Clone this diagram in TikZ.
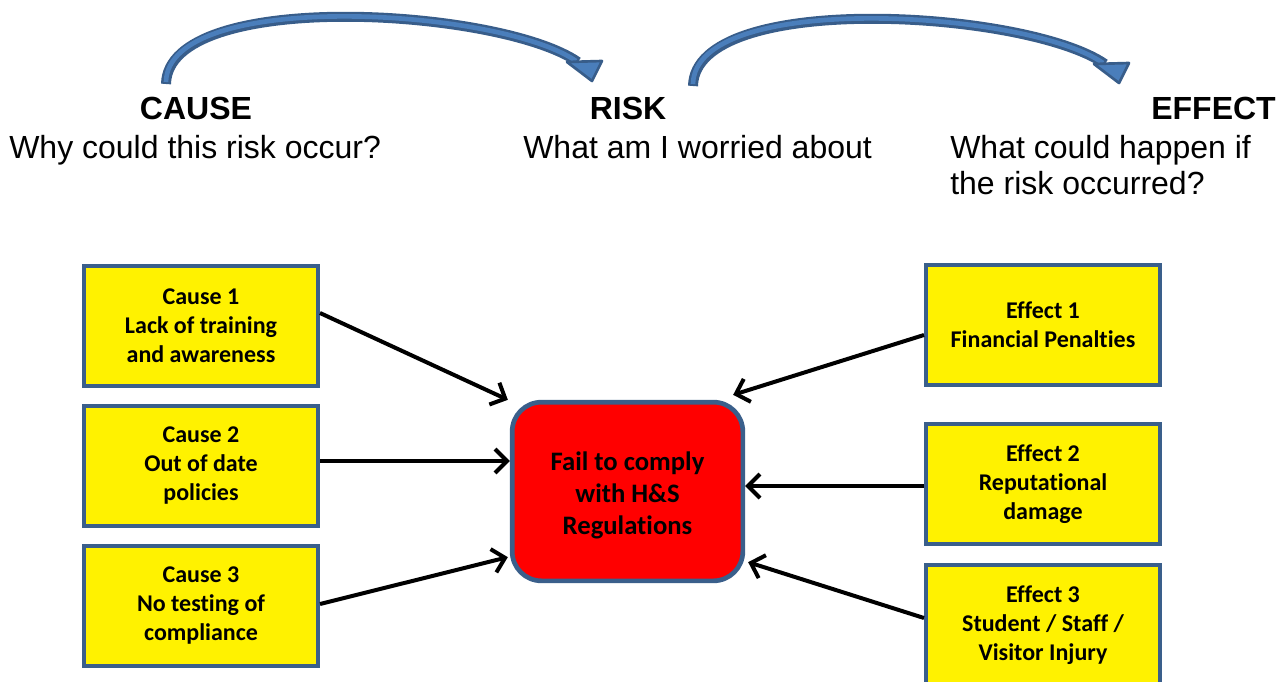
\documentclass[tikz,border=0pt]{standalone}
\usepackage{fontspec}
\setmainfont{Carlito}[Ligatures=NoCommon]
\newfontfamily\arialf{Liberation Sans}
\usetikzlibrary{arrows.meta,calc}
\definecolor{bord}{HTML}{3A5F8B}
\definecolor{arrdark}{HTML}{385D8A}
\definecolor{arrlight}{HTML}{4A7EBB}
\tikzset{
  ybox/.style={draw=bord, line width=3pt, fill=yellow, minimum width=175.5pt, minimum height=90pt,
    align=center, inner sep=0pt, font=\fontsize{18}{21.75}\selectfont\bfseries},
  rbox/.style={draw=bord, line width=3.5pt, fill=red, rounded corners=22pt, minimum width=173pt,
    minimum height=134pt, align=center, inner sep=0pt, font=\fontsize{20}{24}\selectfont\bfseries},
  conn/.style={-{Straight Barb[length=9pt,width=18pt]}, line width=3pt, black},
  head/.style={font=\arialf\bfseries\fontsize{24}{32}\selectfont, inner sep=0pt},
  sub/.style={font=\arialf\fontsize{24}{32}\selectfont, inner sep=0pt},
  curvearrow/.pic={
    \draw[arrdark, line width=7.5pt] (166,84) .. controls (168,-12) and (500,8) .. (578,62);
    \draw[arrlight, line width=3.5pt] (166,82) .. controls (168,-12) and (500,8) .. (576,61);
    \filldraw[fill=arrlight, draw=arrdark, line width=2pt, line join=round]
      (567,62) -- (602,61) -- (592,81) -- cycle;
  }
}
\begin{document}
\begin{tikzpicture}[x=0.75pt,y=-0.75pt]
\useasboundingbox (0,0) rectangle (1283,682);

% curved arrows
\pic at (0,0) {curvearrow};
\pic at (527,2) {curvearrow};

% headings
\node[head, anchor=base] (hc) at (196,119) {CAUSE};
\node[sub, anchor=base west] (sc) at (9,158) {Why could this risk occur?};
\node[head, anchor=base] (hr) at (628,119) {RISK};
\node[sub, anchor=base west] (sr) at (523,158) {What am I worried about};
\node[head, anchor=base east] (he) at (1276,119) {EFFECT};
\node[sub, anchor=base west] (se1) at (950,158) {What could happen if};
\node[sub, anchor=base west] (se2) at (950,194) {the risk occurred?};

% boxes
\node[ybox] (c1) at (201,326) {Cause 1\\Lack of training\\and awareness};
\node[ybox] (c2) at (201,466) {Cause 2\\Out of date\\policies};
\node[ybox] (c3) at (201,606) {Cause 3\\No testing of\\compliance};
\node[ybox] (e1) at (1043,325) {Effect 1\\Financial Penalties};
\node[ybox] (e2) at (1043,484) {Effect 2\\Reputational\\damage};
\node[ybox] (e3) at (1043,625) {Effect 3\\Student / Staff /\\Visitor Injury};
\node[rbox] (r) at (627.5,491.5) {\raisebox{-8pt}[0pt][0pt]{\parbox{170pt}{\centering Fail to comply\\with H\&S\\Regulations}}};

% connectors
\coordinate (a2s) at ($(c2.east)+(0,-5)$);
\coordinate (b2s) at ($(e2.west)+(0,2)$);
\draw[conn] ($(c1.east)+(0,-13)$) -- ($(r.north west)+(-2,0)$);
\draw[conn] (a2s) -- (a2s -| r.west);
\draw[conn] ($(c3.east)+(0,-2)$) -- ($(r.south west)+(-2,-26)$);
\draw[conn] ($(e1.west)+(0,10)$) -- ($(r.north east)+(-12,-5)$);
\draw[conn] (b2s) -- (b2s -| r.east);
\draw[conn] ($(e3.west)+(0,-7)$) -- ($(r.south east)+(3,-21)$);
\end{tikzpicture}
\end{document}
